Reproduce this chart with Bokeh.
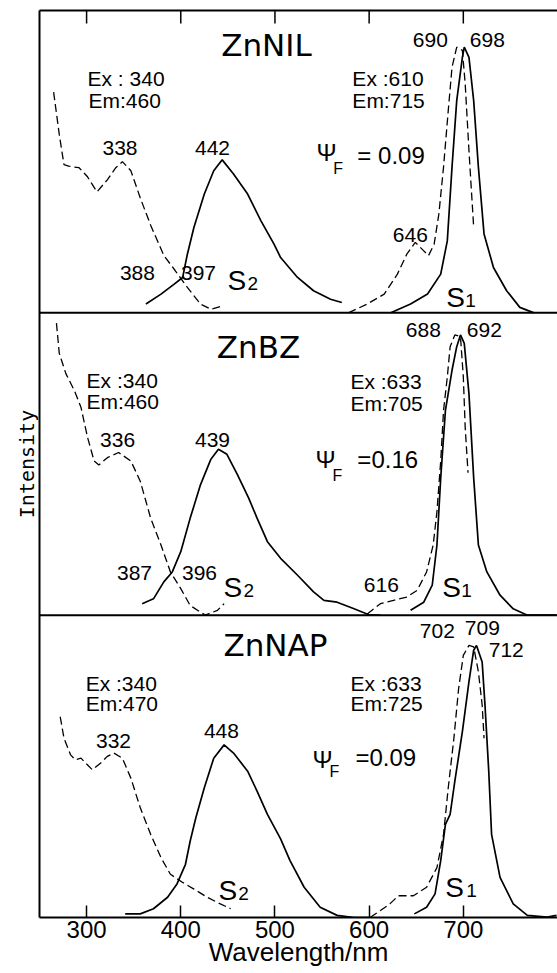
from bokeh.plotting import figure
from bokeh.models import Range1d, LinearAxis, FixedTicker, Span, Label
from bokeh.embed import file_html
from bokeh.resources import INLINE

# ---------------- data (wavelength in nm, intensity as fraction of panel height) -------------
# x-axis ticks
x_ticks = [300, 400, 500, 600, 700]

# Panel 1 : ZnNIL
nil_ex2_wl = [265, 271, 276, 281, 292, 301, 311, 322, 331, 338, 347, 357, 368, 382, 394, 407, 421, 432, 444]
nil_ex2_i = [0.73, 0.59, 0.49, 0.485, 0.48, 0.45, 0.40, 0.44, 0.48, 0.50, 0.47, 0.38, 0.29, 0.19, 0.14, 0.084, 0.029, 0.012, 0.023]
nil_em2_wl = [363, 379, 393, 402, 407, 414, 425, 435, 444, 456, 471, 485, 499, 506, 524, 541, 559, 571]
nil_em2_i = [0.029, 0.062, 0.095, 0.117, 0.194, 0.283, 0.393, 0.47, 0.506, 0.459, 0.393, 0.305, 0.227, 0.183, 0.117, 0.073, 0.045, 0.034]
nil_ex1_wl = [578, 598, 616, 630, 640, 649, 658, 663, 669, 674, 679, 684, 688, 693, 699, 702, 706, 711]
nil_ex1_i = [0.0, 0.029, 0.062, 0.128, 0.194, 0.233, 0.205, 0.189, 0.227, 0.326, 0.482, 0.669, 0.812, 0.879, 0.868, 0.757, 0.536, 0.283]
nil_em1_wl = [623, 644, 662, 676, 683, 688, 693, 699, 701, 706, 711, 716, 722, 732, 746, 760, 775]
nil_em1_i = [0.0, 0.029, 0.062, 0.128, 0.238, 0.482, 0.702, 0.845, 0.879, 0.845, 0.702, 0.482, 0.261, 0.150, 0.073, 0.018, 0.0]

# Panel 2 : ZnBZ
bz_ex2_wl = [268, 271, 278, 287, 294, 301, 308, 313, 322, 334, 347, 357, 368, 379, 389, 400, 410, 426, 439, 446]
bz_ex2_i = [0.966, 0.866, 0.799, 0.743, 0.688, 0.588, 0.51, 0.497, 0.521, 0.538, 0.51, 0.443, 0.321, 0.232, 0.143, 0.088, 0.032, 0.0, 0.016, 0.038]
bz_em2_wl = [359, 371, 382, 391, 400, 410, 421, 432, 440, 449, 460, 472, 481, 492, 506, 524, 541, 552, 566, 584, 601, 612]
bz_em2_i = [0.038, 0.054, 0.11, 0.143, 0.21, 0.321, 0.432, 0.516, 0.549, 0.532, 0.466, 0.388, 0.321, 0.243, 0.188, 0.132, 0.077, 0.049, 0.043, 0.021, 0.0, 0.0]
bz_ex1_wl = [598, 612, 626, 640, 651, 661, 668, 672, 676, 679, 683, 686, 691, 697, 700, 702, 705]
bz_ex1_i = [0.004, 0.038, 0.049, 0.06, 0.082, 0.143, 0.232, 0.343, 0.51, 0.677, 0.788, 0.888, 0.927, 0.921, 0.788, 0.621, 0.471]
bz_em1_wl = [644, 658, 667, 672, 676, 681, 688, 693, 697, 701, 706, 711, 716, 725, 739, 753, 768, 799]
bz_em1_i = [0.016, 0.043, 0.099, 0.232, 0.454, 0.677, 0.81, 0.888, 0.927, 0.899, 0.732, 0.454, 0.232, 0.143, 0.066, 0.021, 0.0, 0.0]

# Panel 3 : ZnNAP
nap_ex2_wl = [272, 276, 283, 288, 294, 299, 306, 315, 322, 329, 338, 347, 357, 368, 379, 389, 402, 414, 428, 442, 453]
nap_ex2_i = [0.664, 0.593, 0.538, 0.522, 0.527, 0.511, 0.489, 0.511, 0.533, 0.544, 0.527, 0.461, 0.363, 0.275, 0.198, 0.143, 0.116, 0.094, 0.067, 0.045, 0.029]
nap_em2_wl = [341, 357, 371, 386, 396, 405, 410, 416, 425, 435, 446, 456, 471, 481, 492, 506, 516, 531, 548, 566, 584, 601]
nap_em2_i = [0.012, 0.012, 0.029, 0.067, 0.111, 0.176, 0.253, 0.33, 0.429, 0.527, 0.571, 0.544, 0.484, 0.418, 0.341, 0.26, 0.188, 0.1, 0.034, 0.007, 0.0, 0.0]
nap_ex1_wl = [601, 612, 622, 631, 647, 661, 672, 679, 684, 690, 695, 700, 706, 711, 716, 720, 722]
nap_ex1_i = [0.0, 0.023, 0.045, 0.072, 0.072, 0.1, 0.165, 0.275, 0.429, 0.593, 0.757, 0.867, 0.9, 0.895, 0.813, 0.703, 0.593]
nap_em1_wl = [648, 661, 670, 676, 681, 686, 691, 699, 706, 711, 714, 720, 723, 727, 730, 739, 753, 768, 789, 799]
nap_em1_i = [0.012, 0.034, 0.078, 0.188, 0.308, 0.341, 0.451, 0.615, 0.78, 0.884, 0.9, 0.845, 0.703, 0.484, 0.275, 0.133, 0.045, 0.007, 0.001, 0.007]

panel_base = {"nil": 2.0, "bz": 1.0, "nap": 0.0}

# ---------------- figure ---------------------------------------------------------------------
PLOT_H = 907  # inner frame height in px (used to convert pixel offsets to data units)
Y_TOP = 3.0
p = figure(width=557, height=973, x_range=Range1d(250, 800), y_range=Range1d(0, Y_TOP),
           output_backend="svg", toolbar_location=None,
           x_axis_location=None, y_axis_location=None,
           min_border_left=39, min_border_right=0, min_border_top=10, min_border_bottom=56)
p.outline_line_color = None
p.xgrid.grid_line_color = None
p.ygrid.grid_line_color = None
p.background_fill_color = "white"
p.border_fill_color = "white"

NUM_FONT = "Liberation Sans"

xb = LinearAxis(ticker=FixedTicker(ticks=x_ticks), major_tick_in=12, major_tick_out=0,
                minor_tick_in=0, minor_tick_out=0, axis_line_width=2, axis_line_color="black",
                major_tick_line_width=1.5, major_tick_line_color="black",
                major_label_text_font=NUM_FONT, major_label_text_font_size="24px",
                major_label_text_color="black", major_label_standoff=3,
                axis_label="Wavelength/nm", axis_label_text_font=NUM_FONT,
                axis_label_text_font_size="26px", axis_label_text_font_style="normal",
                axis_label_text_color="black", axis_label_standoff=-4)
p.add_layout(xb, "below")

# top frame line (axis without ticks/labels)
xt = LinearAxis(ticker=FixedTicker(ticks=[]), major_tick_in=0, major_tick_out=0,
                minor_tick_in=0, minor_tick_out=0, axis_line_width=2, axis_line_color="black",
                major_label_text_font_size="1px", major_label_text_color=None,
                major_label_standoff=0)
p.add_layout(xt, "above")

yl = LinearAxis(ticker=FixedTicker(ticks=[]), major_tick_in=0, major_tick_out=0,
                minor_tick_in=0, minor_tick_out=0, axis_line_width=2, axis_line_color="black",
                major_label_standoff=0, major_label_text_font_size="1px",
                major_label_text_color=None,
                axis_label="Intensity", axis_label_text_font="DejaVu Sans Mono",
                axis_label_text_font_size="20px", axis_label_text_font_style="normal",
                axis_label_text_color="black", axis_label_standoff=1)
p.add_layout(yl, "left")

for loc in (1.0, 2.0):
    p.add_layout(Span(location=loc, dimension="width", line_color="black", line_width=2))

# inward ticks along the top edge, at the x tick positions
TOP_TICK_PX = 13
p.segment(x0=x_ticks, y0=[Y_TOP] * len(x_ticks), x1=x_ticks,
          y1=[Y_TOP - TOP_TICK_PX * Y_TOP / PLOT_H] * len(x_ticks),
          line_color="black", line_width=1.5)

# ---------------- curves ---------------------------------------------------------------------
curves = [
    ("nil", nil_ex2_wl, nil_ex2_i, True), ("nil", nil_em2_wl, nil_em2_i, False),
    ("nil", nil_ex1_wl, nil_ex1_i, True), ("nil", nil_em1_wl, nil_em1_i, False),
    ("bz", bz_ex2_wl, bz_ex2_i, True), ("bz", bz_em2_wl, bz_em2_i, False),
    ("bz", bz_ex1_wl, bz_ex1_i, True), ("bz", bz_em1_wl, bz_em1_i, False),
    ("nap", nap_ex2_wl, nap_ex2_i, True), ("nap", nap_em2_wl, nap_em2_i, False),
    ("nap", nap_ex1_wl, nap_ex1_i, True), ("nap", nap_em1_wl, nap_em1_i, False),
]
for key, wl, inten, dashed in curves:
    ys = [panel_base[key] + v for v in inten]
    if dashed:
        p.line(wl, ys, line_color="black", line_width=1.3, line_dash="8 4")
    else:
        p.line(wl, ys, line_color="black", line_width=1.7)

# ---------------- annotations ----------------------------------------------------------------
def lab(x, y, t, size, align="center", font=NUM_FONT, style="normal"):
    # y is the text baseline; labels are anchored at their vertical middle
    ym = y + 0.35 * size * Y_TOP / PLOT_H
    p.add_layout(Label(x=x, y=ym, text=t, text_font=font, text_font_size=f"{size}px",
                       text_align=align, text_baseline="middle", text_color="black",
                       text_font_style=style))

TITLE_FONT = "DejaVu Sans"
# panel 1
lab(491, 2.851, "ZnNIL", 31, font=TITLE_FONT)
lab(301, 2.752, "Ex : 340", 21, "left")
lab(302, 2.679, "Em:460", 21, "left")
lab(335.5, 2.520, "338", 21)
lab(433.7, 2.520, "442", 21)
lab(354, 2.107, "388", 21)
lab(418.8, 2.107, "397", 21)
lab(449.6, 2.074, "S", 28, "left")
lab(470.8, 2.074, "2", 19, "left")
lab(665, 2.878, "690", 21)
lab(725.5, 2.878, "698", 21)
lab(582.2, 2.752, "Ex :610", 21, "left")
lab(582.2, 2.679, "Em:715", 21, "left")
lab(544, 2.503, "Ψ", 24, "left")
lab(562, 2.460, "F", 16, "left")
lab(587.5, 2.493, "= 0.09", 24, "left")
lab(643.8, 2.233, "646", 21)
lab(682, 2.018, "S", 28, "left")
lab(702, 2.018, "1", 19, "left")

# panel 2
lab(482.5, 1.852, "ZnBZ", 31, font=TITLE_FONT)
lab(300, 1.753, "Ex :340", 21, "left")
lab(300, 1.684, "Em:460", 21, "left")
lab(332.9, 1.555, "336", 21)
lab(433.7, 1.555, "439", 21)
lab(350.9, 1.115, "387", 21)
lab(419.9, 1.115, "396", 21)
lab(445.4, 1.058, "S", 28, "left")
lab(466.6, 1.058, "2", 19, "left")
lab(657.6, 1.918, "688", 21)
lab(722.3, 1.918, "692", 21)
lab(580.1, 1.750, "Ex :633", 21, "left")
lab(580.1, 1.677, "Em:705", 21, "left")
lab(543, 1.488, "Ψ", 24, "left")
lab(561, 1.445, "F", 16, "left")
lab(587.5, 1.488, "=0.16", 24, "left")
lab(613, 1.075, "616", 21)
lab(677.7, 1.058, "S", 28, "left")
lab(697.9, 1.058, "1", 19, "left")

# panel 3
lab(500.5, 0.867, "ZnNAP", 31, font=TITLE_FONT)
lab(299, 0.751, "Ex :340", 21, "left")
lab(299, 0.685, "Em:470", 21, "left")
lab(328.6, 0.559, "332", 21)
lab(443.2, 0.592, "448", 21)
lab(440, 0.056, "S", 28, "left")
lab(461, 0.056, "2", 19, "left")
lab(672.4, 0.923, "702", 21)
lab(720.2, 0.933, "709", 21)
lab(745.6, 0.860, "712", 21)
lab(580.1, 0.751, "Ex :633", 21, "left")
lab(580.1, 0.685, "Em:725", 21, "left")
lab(539.8, 0.496, "Ψ", 24, "left")
lab(557.8, 0.463, "F", 16, "left")
lab(585.4, 0.503, "=0.09", 24, "left")
lab(680.9, 0.066, "S", 28, "left")
lab(703, 0.066, "1", 19, "left")

open("out.html", "w").write(file_html(p, INLINE))
